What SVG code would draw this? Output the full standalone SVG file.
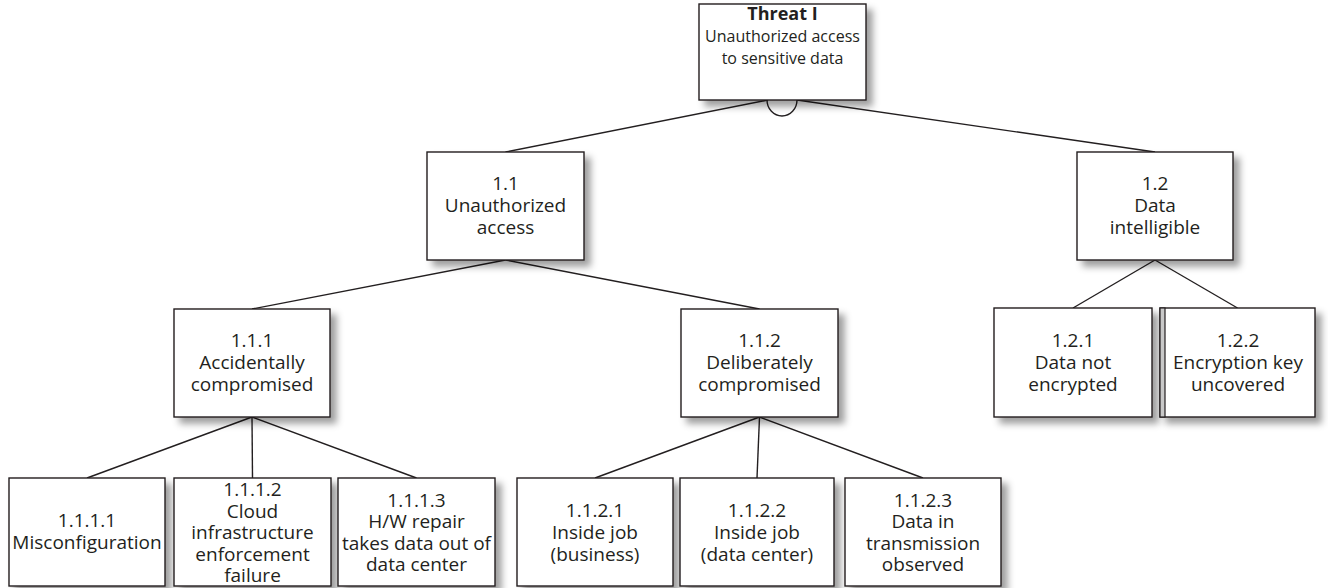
<svg xmlns="http://www.w3.org/2000/svg" width="1328" height="588" viewBox="0 0 1328 588">
  <defs>
    <filter id="shadow" x="-10%" y="-10%" width="130%" height="130%">
      <feDropShadow dx="6" dy="6" stdDeviation="3.5" flood-color="#000" flood-opacity="0.38"/>
    </filter>
  </defs>
  <style>
    .box { fill: #ffffff; stroke: #231f20; stroke-width: 1.4; filter: url(#shadow); }
    .lbl { font-family: "Open Sans", "Lato", sans-serif; font-size: 19px; fill: #231f20; text-anchor: middle; }
    .top { font-size: 16px; }
    .title { font-size: 18px; font-weight: bold; }
    .conn line, .conn path { stroke: #231f20; stroke-width: 1.4; fill: none; }
  </style>
  <rect width="1328" height="588" fill="#ffffff"/>

  <g id="connectors" class="conn">
    <line x1="768" y1="100" x2="505.5" y2="152"/>
    <line x1="797" y1="100" x2="1155" y2="152"/>
    <path d="M767,100 A15,16 0 0 0 797,100"/>
    <line x1="505.5" y1="260" x2="252" y2="309"/>
    <line x1="505.5" y1="260" x2="759.5" y2="309"/>
    <line x1="1155" y1="260" x2="1073" y2="308"/>
    <line x1="1155" y1="260" x2="1237.5" y2="308"/>
    <line x1="252" y1="417" x2="87" y2="478"/>
    <line x1="252" y1="417" x2="252.5" y2="478"/>
    <line x1="252" y1="417" x2="416.5" y2="478"/>
    <line x1="759.5" y1="417" x2="595" y2="478"/>
    <line x1="759.5" y1="417" x2="757" y2="478"/>
    <line x1="759.5" y1="417" x2="923" y2="478"/>
  </g>

  <g id="threat1">
    <rect class="box" x="699" y="4" width="167" height="96"/>
    <text class="lbl title" x="782.5" y="20">Threat I</text>
    <text class="lbl top" x="782.5" y="42">Unauthorized access</text>
    <text class="lbl top" x="782.5" y="64">to sensitive data</text>
  </g>

  <g id="n1_1">
    <rect class="box" x="427" y="152" width="157" height="108"/>
    <text class="lbl" x="505.5" y="190">1.1</text>
    <text class="lbl" x="505.5" y="212">Unauthorized</text>
    <text class="lbl" x="505.5" y="234">access</text>
  </g>

  <g id="n1_2">
    <rect class="box" x="1077" y="152" width="156" height="108"/>
    <text class="lbl" x="1155" y="190">1.2</text>
    <text class="lbl" x="1155" y="212">Data</text>
    <text class="lbl" x="1155" y="234">intelligible</text>
  </g>

  <g id="n1_1_1">
    <rect class="box" x="174" y="309" width="156" height="108"/>
    <text class="lbl" x="252" y="347">1.1.1</text>
    <text class="lbl" x="252" y="369">Accidentally</text>
    <text class="lbl" x="252" y="391">compromised</text>
  </g>

  <g id="n1_1_2">
    <rect class="box" x="681" y="309" width="157" height="108"/>
    <text class="lbl" x="759.5" y="347">1.1.2</text>
    <text class="lbl" x="759.5" y="369">Deliberately</text>
    <text class="lbl" x="759.5" y="391">compromised</text>
  </g>

  <g id="n1_2_1">
    <rect class="box" x="994" y="308" width="158" height="109"/>
    <text class="lbl" x="1073" y="347">1.2.1</text>
    <text class="lbl" x="1073" y="369">Data not</text>
    <text class="lbl" x="1073" y="391">encrypted</text>
  </g>

  <g id="n1_2_2">
    <rect class="box" x="1160" y="308" width="155" height="109"/>
    <rect x="1160" y="308" width="5" height="109" fill="#c8c8c8" stroke="#231f20" stroke-width="1.2"/>
    <text class="lbl" x="1238" y="347">1.2.2</text>
    <text class="lbl" x="1238" y="369">Encryption key</text>
    <text class="lbl" x="1238" y="391">uncovered</text>
  </g>

  <g id="n1_1_1_1">
    <rect class="box" x="9" y="478" width="156" height="108"/>
    <text class="lbl" x="87" y="527">1.1.1.1</text>
    <text class="lbl" x="87" y="549">Misconfiguration</text>
  </g>

  <g id="n1_1_1_2">
    <rect class="box" x="174" y="478" width="157" height="108"/>
    <text class="lbl" x="252.5" y="496">1.1.1.2</text>
    <text class="lbl" x="252.5" y="517.5">Cloud</text>
    <text class="lbl" x="252.5" y="539">infrastructure</text>
    <text class="lbl" x="252.5" y="560.5">enforcement</text>
    <text class="lbl" x="252.5" y="582">failure</text>
  </g>

  <g id="n1_1_1_3">
    <rect class="box" x="338" y="478" width="157" height="108"/>
    <text class="lbl" x="416.5" y="506.5">1.1.1.3</text>
    <text class="lbl" x="416.5" y="528">H/W repair</text>
    <text class="lbl" x="416.5" y="549.5">takes data out of</text>
    <text class="lbl" x="416.5" y="571">data center</text>
  </g>

  <g id="n1_1_2_1">
    <rect class="box" x="517" y="478" width="156" height="108"/>
    <text class="lbl" x="595" y="517">1.1.2.1</text>
    <text class="lbl" x="595" y="539">Inside job</text>
    <text class="lbl" x="595" y="561">(business)</text>
  </g>

  <g id="n1_1_2_2">
    <rect class="box" x="680" y="478" width="154" height="108"/>
    <text class="lbl" x="757" y="517">1.1.2.2</text>
    <text class="lbl" x="757" y="539">Inside job</text>
    <text class="lbl" x="757" y="561">(data center)</text>
  </g>

  <g id="n1_1_2_3">
    <rect class="box" x="845" y="478" width="156" height="108"/>
    <text class="lbl" x="923" y="506.5">1.1.2.3</text>
    <text class="lbl" x="923" y="528">Data in</text>
    <text class="lbl" x="923" y="549.5">transmission</text>
    <text class="lbl" x="923" y="571">observed</text>
  </g>
</svg>
